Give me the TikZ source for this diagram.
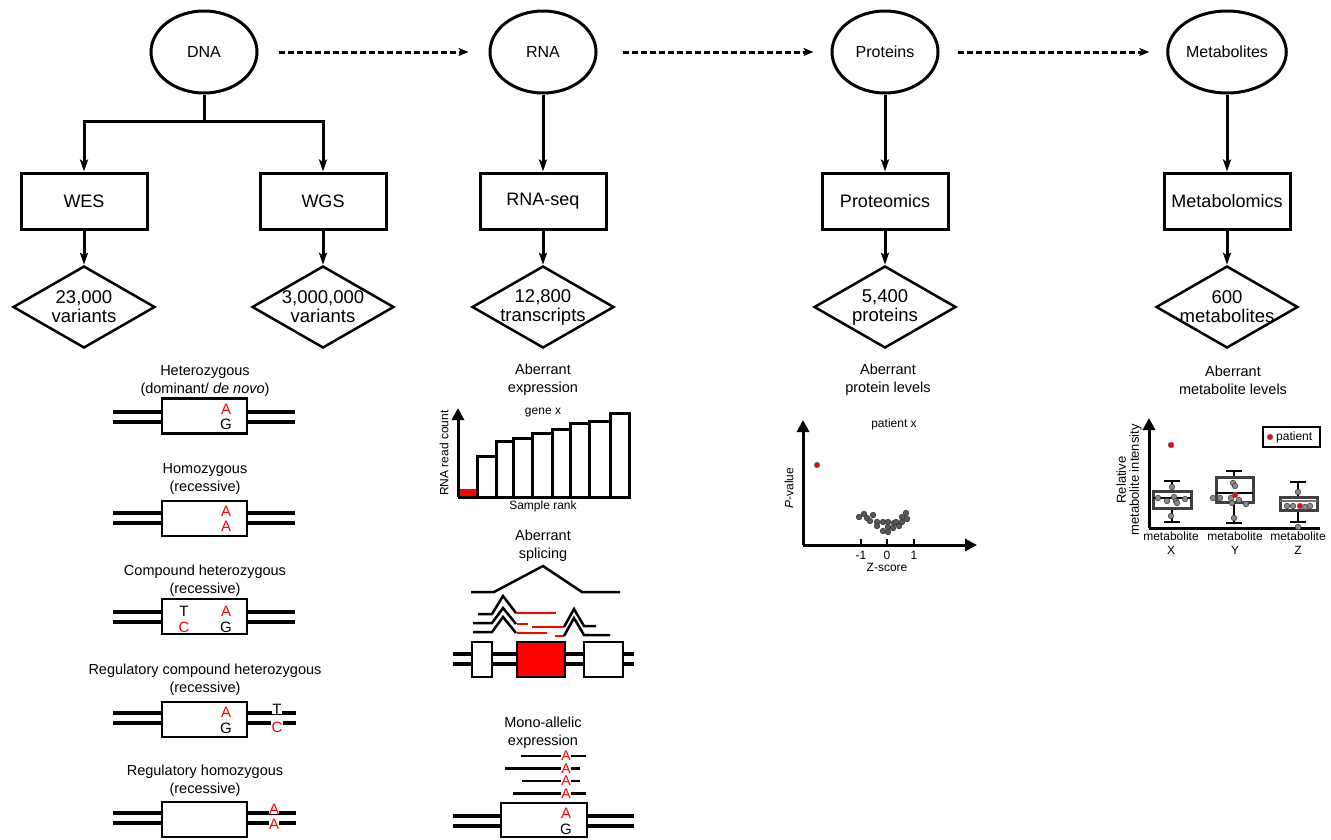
\documentclass[tikz,border=0pt]{standalone}
\usepackage{fontspec}
\setmainfont{Liberation Sans}
\usetikzlibrary{positioning, arrows.meta, shapes.geometric}

\begin{document}
\begin{tikzpicture}[
  x=1pt, y=-1pt,
  omic/.style={draw, ellipse, line width=3pt, inner sep=1pt, minimum width=106pt,
               minimum height=82pt, font=\fontsize{16}{18}\selectfont},
  tech/.style={draw, line width=3pt, minimum width=126pt, minimum height=56pt,
               font=\fontsize{18}{20}\selectfont},
  tally/.style={draw, diamond, line width=2.5pt, inner sep=0pt, aspect=1.73,
                minimum width=142pt, minimum height=82pt},
  tallytext/.style={align=center, inner sep=0pt, font=\fontsize{18.5}{19}\selectfont},
  head/.style={align=center, font=\fontsize{14.5}{18}\selectfont},
  gbox/.style={draw, fill=white, line width=2.5pt, minimum width=85pt, minimum height=35pt},
  chr/.style={line width=3.5pt},
  read/.style={line width=2.5pt},
  nt/.style={font=\fontsize{15}{15}\selectfont, inner sep=0.3pt},
  ntalt/.style={nt, text=red, fill=white},
  note/.style={font=\fontsize{12}{14}\selectfont, inner sep=1pt},
  lab/.style={font=\fontsize{12}{14}\selectfont, inner sep=1pt, align=center},
  arr/.style={-{Stealth[length=12pt, width=8pt, inset=2.5pt]}, line width=3pt},
  arro/.style={-{Stealth[length=12pt, width=8pt, inset=2.5pt, fill=white]}, line width=3pt},
  link/.style={line width=3pt, dash pattern=on 6pt off 3pt,
               -{Stealth[length=10pt, width=8pt, inset=2.5pt]}},
  linko/.style={line width=3pt, dash pattern=on 6pt off 3pt,
                -{Stealth[length=10pt, width=8pt, inset=2.5pt, fill=white]}},
  axis/.style={line width=3pt, -{Triangle[length=12pt, width=12pt]}},
  bar/.style={draw, fill=white, line width=3pt},
  pdot/.style={draw=black!80, fill=black!65, line width=0.6pt},
  mdot/.style={draw=black!75, fill=black!45, line width=0.6pt},
  rdot/.style={draw=black!60, fill=red, line width=0.6pt},
  whisk/.style={line width=2.5pt},
  bplot/.style={draw=black!75, fill=white, line width=3pt},
]
\useasboundingbox (0,0) rectangle (1331,839);

% omics levels
\node[omic] (dna)  at (204,52)  {DNA};
\node[omic] (rna)  at (543,52)  {RNA};
\node[omic] (prot) at (885,52)  {Proteins};
\node[omic] (met)  at (1227,52) {Metabolites};
\draw[linko] ([xshift=20pt]dna.east)  -- ([xshift=-20pt]rna.west);
\draw[link]  ([xshift=25pt]rna.east)  -- ([xshift=-17pt]prot.west);
\draw[link]  ([xshift=18pt]prot.east) -- ([xshift=-17pt]met.west);

% technologies
\node[tech] (wes)    at (84,201)   {WES};
\node[tech] (wgs)    at (323,201)  {WGS};
\node[tech] (rnaseq) at (543,201)  {RNA-seq};
\node[tech] (omics)  at (885,201)  {Proteomics};
\node[tech] (metab)  at (1227,201) {Metabolomics};
\coordinate (split) at (204,121);
\draw[line width=3pt] (dna) -- (split);
\draw[arr]  (split) -| (wes);
\draw[arro] (split) -| (wgs);
\draw[arr] (rna)  -- (rnaseq);
\draw[arr] (prot) -- (omics);
\draw[arr] (met)  -- (metab);

% numbers
\node[tally] (n1) at (84,307)   {};
\node[tally] (n2) at (323,307)  {};
\node[tally] (n3) at (543,307)  {};
\node[tally] (n4) at (885,307)  {};
\node[tally] (n5) at (1227,307) {};
\node[tallytext] at (n1) {23,000\\variants};
\node[tallytext] at (n2) {3,000,000\\variants};
\node[tallytext] at (n3) {12,800\\transcripts};
\node[tallytext] at (n4) {5,400\\proteins};
\node[tallytext] at (n5) {600\\metabolites};
\draw[arr] (wes)    -- (n1);
\draw[arr] (wgs)    -- (n2);
\draw[arr] (rnaseq) -- (n3);
\draw[arr] (omics)  -- (n4);
\draw[arr] (metab)  -- (n5);

% DNA variant types
\node[head] (het) at (205,381) {Heterozygous\\(dominant/ \textit{de novo})};
\draw[chr] (113,412) -- (295,412);
\draw[chr] (113,422) -- (295,422);
\node[gbox] (hetbox) at (204.5,416) {};
\node[ntalt] at (226,409) {A};
\node[nt] at (226,424) {G};

\node[head] (hom) at (205,479) {Homozygous\\(recessive)};
\draw[chr] (113,513) -- (295,513);
\draw[chr] (113,523) -- (295,523);
\node[gbox] (hombox) at (204.5,518.5) {};
\node[ntalt] at (226,511) {A};
\node[ntalt] at (226,526) {A};

\node[head] (comp) at (205,581) {Compound heterozygous\\(recessive)};
\draw[chr] (113,612) -- (295,612);
\draw[chr] (113,622) -- (295,622);
\node[gbox] (compbox) at (204.5,616.5) {};
\node[nt] at (184,611) {T};
\node[ntalt] at (184,627) {C};
\node[ntalt] at (226,611) {A};
\node[nt] at (226,627) {G};

\node[head] (regcomp) at (205,680) {Regulatory compound heterozygous\\(recessive)};
\draw[chr] (113,713) -- (296,713);
\draw[chr] (113,723) -- (296,723);
\node[gbox] (regcompbox) at (204.5,719.5) {};
\node[ntalt] at (226,712) {A};
\node[nt] at (226,728) {G};
\node[nt, fill=white] at (277,709) {T};
\node[ntalt] at (277,727) {C};

\node[head] (reghom) at (205,781) {Regulatory homozygous\\(recessive)};
\draw[chr] (113,813) -- (296,813);
\draw[chr] (113,823) -- (296,823);
\node[gbox] (reghombox) at (204.5,819.5) {};
\node[ntalt] at (274,809) {A};
\node[ntalt] at (274,824) {A};

% RNA: aberrant expression
\node[head] (expr) at (543,380) {Aberrant\\expression};
\node[note] (gene) at (543,413) {gene x};
\fill[red] (458,489) rectangle (477,497);
\foreach \a/\b/\t in {477/496/456, 496/513/441, 513/532/438, 532/552/433,
                      552/570/429, 570/589/423, 589/610/421, 610/629/413}
  \draw[bar] (\a,497) rectangle (\b,\t);
\draw[line width=3pt] (458,497) -- (629,497);
\draw[axis] (458,497) -- (458,408);
\node[note, rotate=90] at (444,453) {RNA read count};
\node[note] at (543,506) {Sample rank};

% RNA: aberrant splicing
\node[head] (splice) at (543,546) {Aberrant\\splicing};
\draw[read] (471,592) -- (494,592) -- (543,566) -- (582,592) -- (620,592);
\draw[read] (478,614) -- (492,614) -- (503,596) -- (516,613);
\draw[read, red] (516,613) -- (556,613);
\draw[read] (473,623) -- (492,623) -- (503,608) -- (516,624);
\draw[read, red] (517,624) -- (528,624);
\draw[read, red] (532,627) -- (564,627);
\draw[read] (564,627) -- (574,609) -- (584,626) -- (596,626);
\draw[read] (473,632) -- (492,632) -- (503,617) -- (516,633);
\draw[read, red] (517,633) -- (547,633);
\draw[read, red] (555,636) -- (564,636);
\draw[read] (564,636) -- (574,618) -- (584,635) -- (610,635);
\draw[chr] (453,654) -- (634,654);
\draw[chr] (453,664) -- (634,664);
\draw[line width=2.5pt, fill=white] (472,642) rectangle (492,677);
\draw[line width=2.5pt, fill=red] (517,642) rectangle (565,677);
\draw[line width=2.5pt, fill=white] (584,642) rectangle (623,677);

% RNA: mono-allelic expression
\node[head] (mono) at (543,733) {Mono-allelic\\expression};
\draw[read] (521,756) -- (586,756);
\draw[read] (505,768.5) -- (580,768.5);
\draw[read] (522,781) -- (580,781);
\draw[read] (513,793.5) -- (586,793.5);
\node[ntalt, font=\fontsize{14}{14}\selectfont, inner sep=0pt] at (566,756) {A};
\node[ntalt, font=\fontsize{14}{14}\selectfont, inner sep=0pt] at (566,768.5) {A};
\node[ntalt, font=\fontsize{14}{14}\selectfont, inner sep=0pt] at (566,781) {A};
\node[ntalt, font=\fontsize{14}{14}\selectfont, inner sep=0pt] at (566,793.5) {A};
\draw[chr] (453,816) -- (634,816);
\draw[chr] (453,826) -- (634,826);
\node[gbox, minimum width=86pt, minimum height=34pt] (monobox) at (544,820) {};
\node[ntalt] at (566,813) {A};
\node[nt] at (566,829) {G};

% proteins
\node[head] (plev) at (888,380) {Aberrant\\protein levels};
\node[note] (pat) at (894,424) {patient x};
\draw[axis] (803,545) -- (803,420);
\draw[axis] (803,545) -- (977,545);
\foreach \x/\t in {861/-1, 887/0, 914/1} {
  \draw[line width=2pt] (\x,539) -- (\x,545);
  \node[note] at (\x,555) {\t};
}
\node[note] at (887,567) {Z-score};
\node[note, rotate=90] at (789,488) {\textit{P}-value};
\filldraw[rdot] (817,465) circle (2.8);
\foreach \x/\y in {859/517, 864/514, 867/518, 873/515, 870/521, 877/522, 877/526,
                   883/531, 883/522, 888/522, 888/527, 888/532, 893/528, 894/523,
                   896/522, 899/526, 902/522, 902/517, 906/513, 907/519}
  \filldraw[pdot] (\x,\y) circle (2.8);

% metabolites
\node[head] (mlev) at (1233,380) {Aberrant\\metabolite levels};
\draw[axis] (1149,528) -- (1149,418);
\draw[line width=3pt] (1149,528) -- (1320,528);
\node[lab, font=\fontsize{13}{13}\selectfont, rotate=90] at (1129,480) {Relative\\metabolite intensity};
\node[lab] at (1171,543) {metabolite\\X};
\node[lab] at (1235,543) {metabolite\\Y};
\node[lab] at (1298,543) {metabolite\\Z};
\node[draw, line width=1.5pt, minimum width=57pt, minimum height=20pt] (legend) at (1291.5,437) {};
\filldraw[rdot] (1270,437) circle (2.8);
\node[note, anchor=west] at (1275,437.5) {patient};
% metabolite X
\draw[whisk] (1172,481) -- (1172,522);
\draw[whisk] (1164,481) -- (1180,481);
\draw[whisk] (1164,522) -- (1180,522);
\draw[bplot] (1153,491) rectangle (1191,508);
\draw[whisk] (1153,498) -- (1191,498);
\foreach \x/\y in {1158/498, 1167/501, 1174/497, 1176/501, 1177/503, 1185/499,
                   1172/487, 1171/516}
  \filldraw[mdot] (\x,\y) circle (2.8);
\filldraw[rdot] (1171,445) circle (2.8);
% metabolite Y
\draw[whisk] (1234,471) -- (1234,523);
\draw[whisk] (1226,471) -- (1242,471);
\draw[whisk] (1226,523) -- (1242,523);
\draw[bplot] (1216,477) rectangle (1253,502);
\draw[whisk] (1216,493) -- (1253,493);
\foreach \x/\y in {1233/483, 1235/486, 1213/498, 1220/498, 1231/498, 1232/503,
                   1239/500, 1246/504, 1234/518}
  \filldraw[mdot] (\x,\y) circle (2.8);
\filldraw[rdot] (1235,495) circle (2.8);
% metabolite Z
\draw[whisk] (1298,482) -- (1298,522);
\draw[whisk] (1290,482) -- (1306,482);
\draw[whisk] (1290,522) -- (1306,522);
\draw[bplot] (1280,497) rectangle (1317,510);
\draw[line width=2.5pt, black!55] (1280,501) -- (1317,501);
\foreach \x/\y in {1298/492, 1287/506, 1293/506, 1305/507, 1310/506, 1298/527}
  \filldraw[mdot] (\x,\y) circle (2.8);
\filldraw[rdot] (1300,506) circle (2.8);
\end{tikzpicture}
\end{document}
